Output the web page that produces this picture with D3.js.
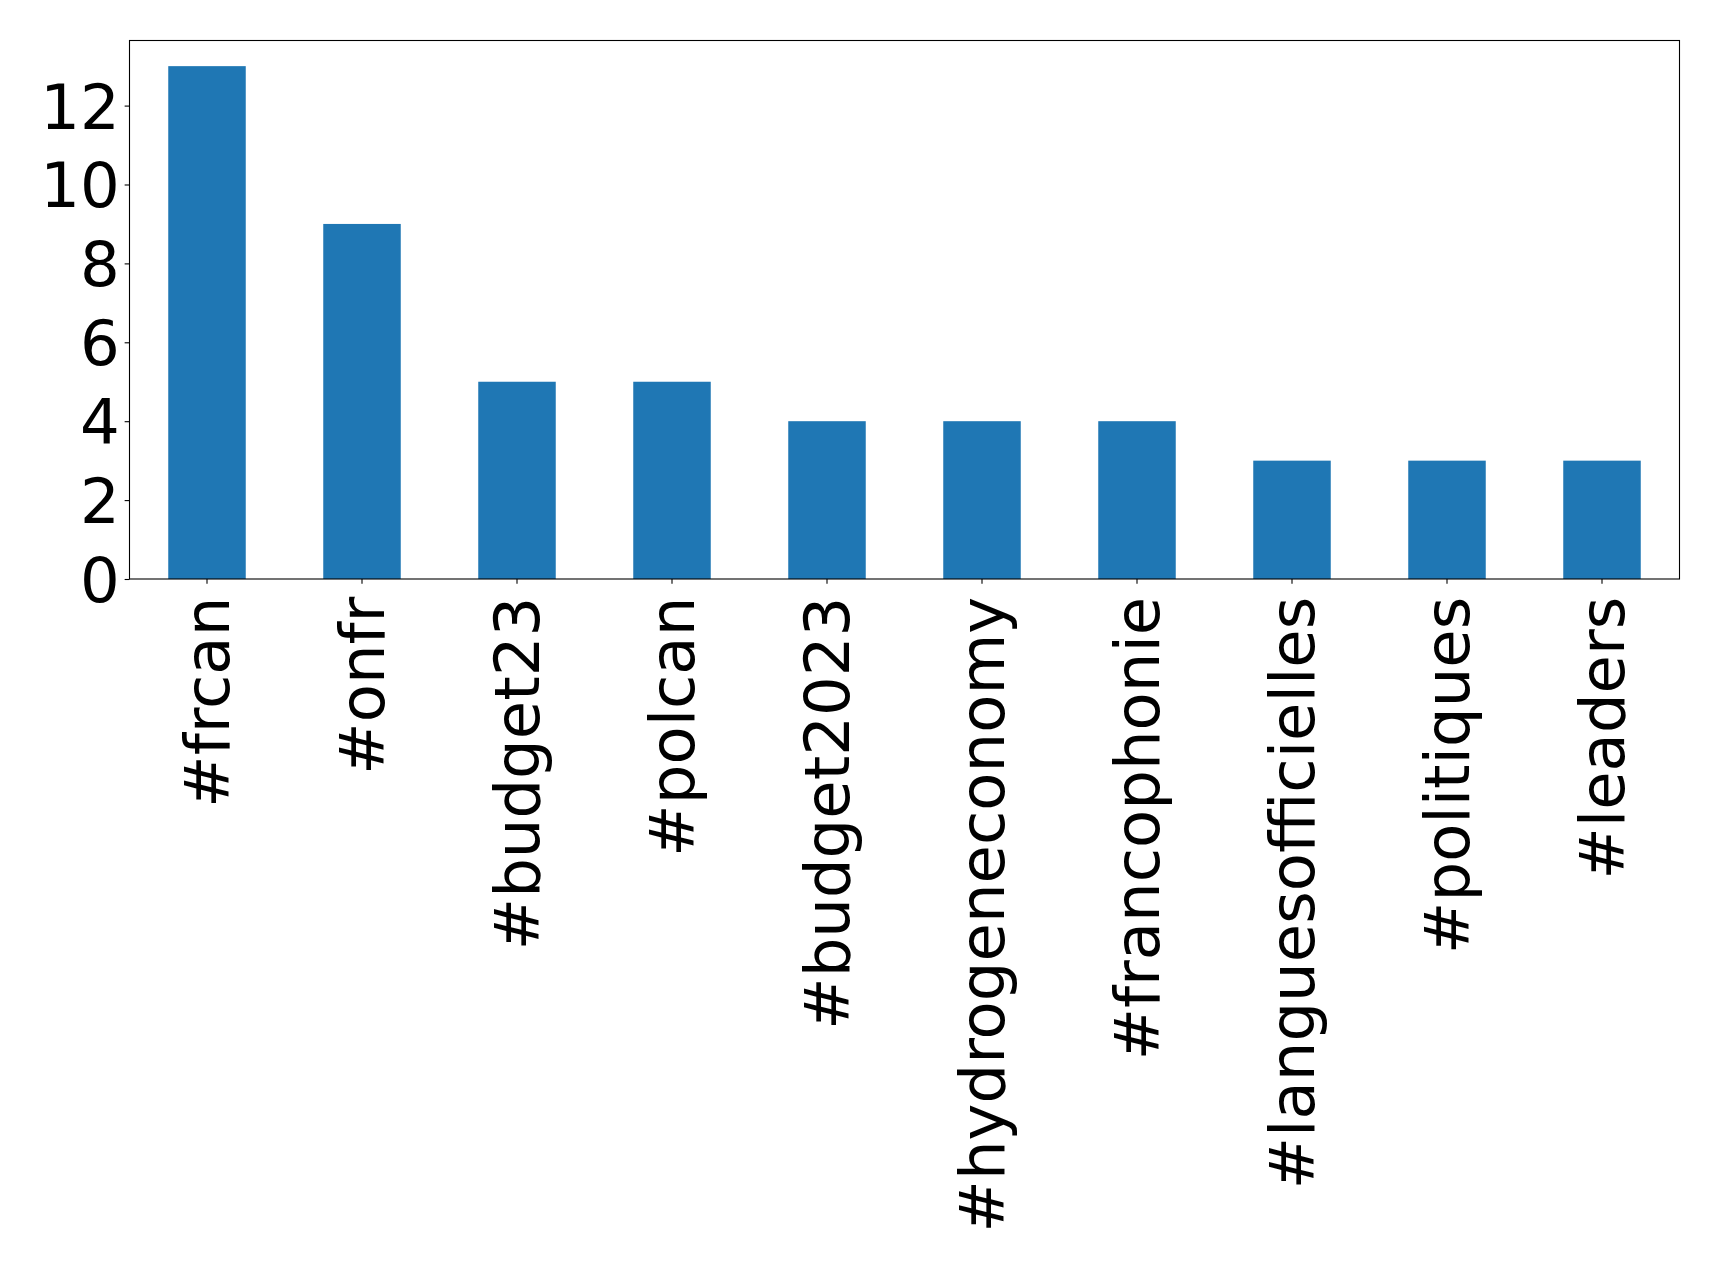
<!DOCTYPE html>
<html>
<head>
<meta charset="utf-8">
<script src="https://cdn.jsdelivr.net/npm/d3@7"></script>
<style>
  html, body { margin: 0; padding: 0; background: #fff; }
  svg { display: block; }
  text { font-family: "DejaVu Sans", sans-serif; fill: #000; }
</style>
</head>
<body>
<script>
const categories = ["#frcan", "#onfr", "#budget23", "#polcan", "#budget2023",
  "#hydrogeneconomy", "#francophonie", "#languesofficielles", "#politiques", "#leaders"];
const counts = [13, 9, 5, 5, 4, 4, 4, 3, 3, 3];
const yTicks = [0, 2, 4, 6, 8, 10, 12];

const W = 1719, H = 1264;
const mLeft = 129.5, mRight = 1679.5, mTop = 40.5, mBottom = 579;
const fontSize = 62.5;
const tickLen = 4.86, pad = 4.86;

const svg = d3.select("body").append("svg").attr("width", W).attr("height", H);

const x = d3.scaleBand().domain(categories).range([mLeft, mRight]).paddingInner(0.5).paddingOuter(0.25);
const yMax = d3.max(counts) * 1.05;
const y = d3.scaleLinear().domain([0, yMax]).range([mBottom, mTop]);

svg.append("g").selectAll("rect").data(categories).join("rect")
  .attr("x", d => x(d))
  .attr("width", x.bandwidth())
  .attr("y", (d, i) => y(counts[i]))
  .attr("height", (d, i) => y(0) - y(counts[i]))
  .attr("fill", "#1f77b4");

// y axis
const yAxis = d3.axisLeft(y).tickValues(yTicks).tickSize(tickLen).tickPadding(pad).tickFormat(d3.format("d"));
const gy = svg.append("g").attr("transform", `translate(${mLeft},0)`).call(yAxis);
gy.select(".domain").remove();
gy.selectAll("line").attr("stroke", "#000").attr("stroke-width", 1.1);
gy.selectAll("text").attr("font-size", fontSize).attr("font-family", "DejaVu Sans").attr("dy", "0.36em");

// x axis
const xAxis = d3.axisBottom(x).tickSize(tickLen).tickPadding(pad);
const gx = svg.append("g").attr("transform", `translate(0,${mBottom})`).call(xAxis);
gx.select(".domain").remove();
gx.selectAll("line").attr("stroke", "#000").attr("stroke-width", 1.1);
gx.selectAll("text")
  .attr("font-size", fontSize)
  .attr("font-family", "DejaVu Sans")
  .attr("text-anchor", "end")
  .attr("y", 0)
  .attr("x", 0)
  .attr("dy", "0.35em")
  .attr("transform", `translate(0,${tickLen + pad + 8}) rotate(-90)`);

// frame
svg.append("rect")
  .attr("x", mLeft).attr("y", mTop)
  .attr("width", mRight - mLeft).attr("height", mBottom - mTop)
  .attr("fill", "none").attr("stroke", "#000").attr("stroke-width", 1.1);
</script>
</body>
</html>
